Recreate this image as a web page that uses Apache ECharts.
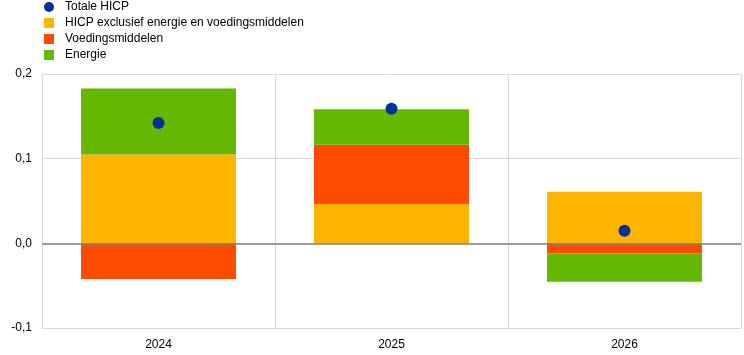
<!DOCTYPE html>
<html><head><meta charset="utf-8">
<script src="https://cdn.jsdelivr.net/npm/echarts@6/dist/echarts.min.js"></script>
<style>html,body{margin:0;padding:0;background:#fff}#c{width:744px;height:355px}</style>
</head><body><div id="c"></div>
<script>
var categories = ['2024', '2025', '2026'];
var totaleHICP = [0.142, 0.159, 0.015];
var hicpExcl = [0.105, 0.0465, 0.061];
var voeding = [-0.042, 0.070, -0.012];
var energie = [0.078, 0.042, -0.0335];
var yTicks = [-0.1, 0, 0.1, 0.2];

var chart = echarts.init(document.getElementById('c'));
var font = 'Liberation Sans, Arial, sans-serif';
chart.setOption({
  animation: false,
  textStyle: {fontFamily: font},
  legend: {
    orient: 'vertical', left: 44, top: 1, padding: 0, itemWidth: 10, itemHeight: 10, itemGap: 4,
    textStyle: {fontFamily: font, fontSize: 12, color: '#000', padding: [0, 0, 0, 6]},
    data: [
      {name: 'Totale HICP', icon: 'circle'},
      {name: 'HICP exclusief energie en voedingsmiddelen', icon: 'rect'},
      {name: 'Voedingsmiddelen', icon: 'rect'},
      {name: 'Energie', icon: 'rect'}
    ]
  },
  grid: {left: 42, right: 3, top: 74, bottom: 27},
  xAxis: {
    type: 'category', data: categories,
    axisLine: {onZero: false, lineStyle: {color: '#d9d9d9'}},
    axisTick: {show: false},
    axisLabel: {color: '#000', fontSize: 12, margin: 11, fontFamily: font},
    splitLine: {show: true, lineStyle: {color: '#d9d9d9'}}
  },
  yAxis: {
    type: 'value', min: yTicks[0], max: yTicks[yTicks.length - 1], interval: 0.1,
    axisLine: {show: true, lineStyle: {color: '#d9d9d9'}},
    axisTick: {show: false},
    axisLabel: {color: '#000', fontSize: 12, margin: 10, fontFamily: font,
      formatter: function (v) { return v.toFixed(1).replace('.', ','); }},
    splitLine: {lineStyle: {color: '#d9d9d9'}}
  },
  series: [
    {name: 'HICP exclusief energie en voedingsmiddelen', type: 'bar', stack: 'a', data: hicpExcl,
     barWidth: '66.5%', itemStyle: {color: '#ffb400'},
     markLine: {silent: true, symbol: 'none', label: {show: false},
       lineStyle: {color: '#808080', type: 'solid', width: 1.5}, data: [{yAxis: 0}]}},
    {name: 'Voedingsmiddelen', type: 'bar', stack: 'a', data: voeding, itemStyle: {color: '#ff4b00'}},
    {name: 'Energie', type: 'bar', stack: 'a', data: energie, itemStyle: {color: '#65b800'}},
    {name: 'Totale HICP', type: 'scatter', data: totaleHICP, symbolSize: 12, z: 10,
     itemStyle: {color: '#003299', opacity: 1}}
  ]
});
</script></body></html>
